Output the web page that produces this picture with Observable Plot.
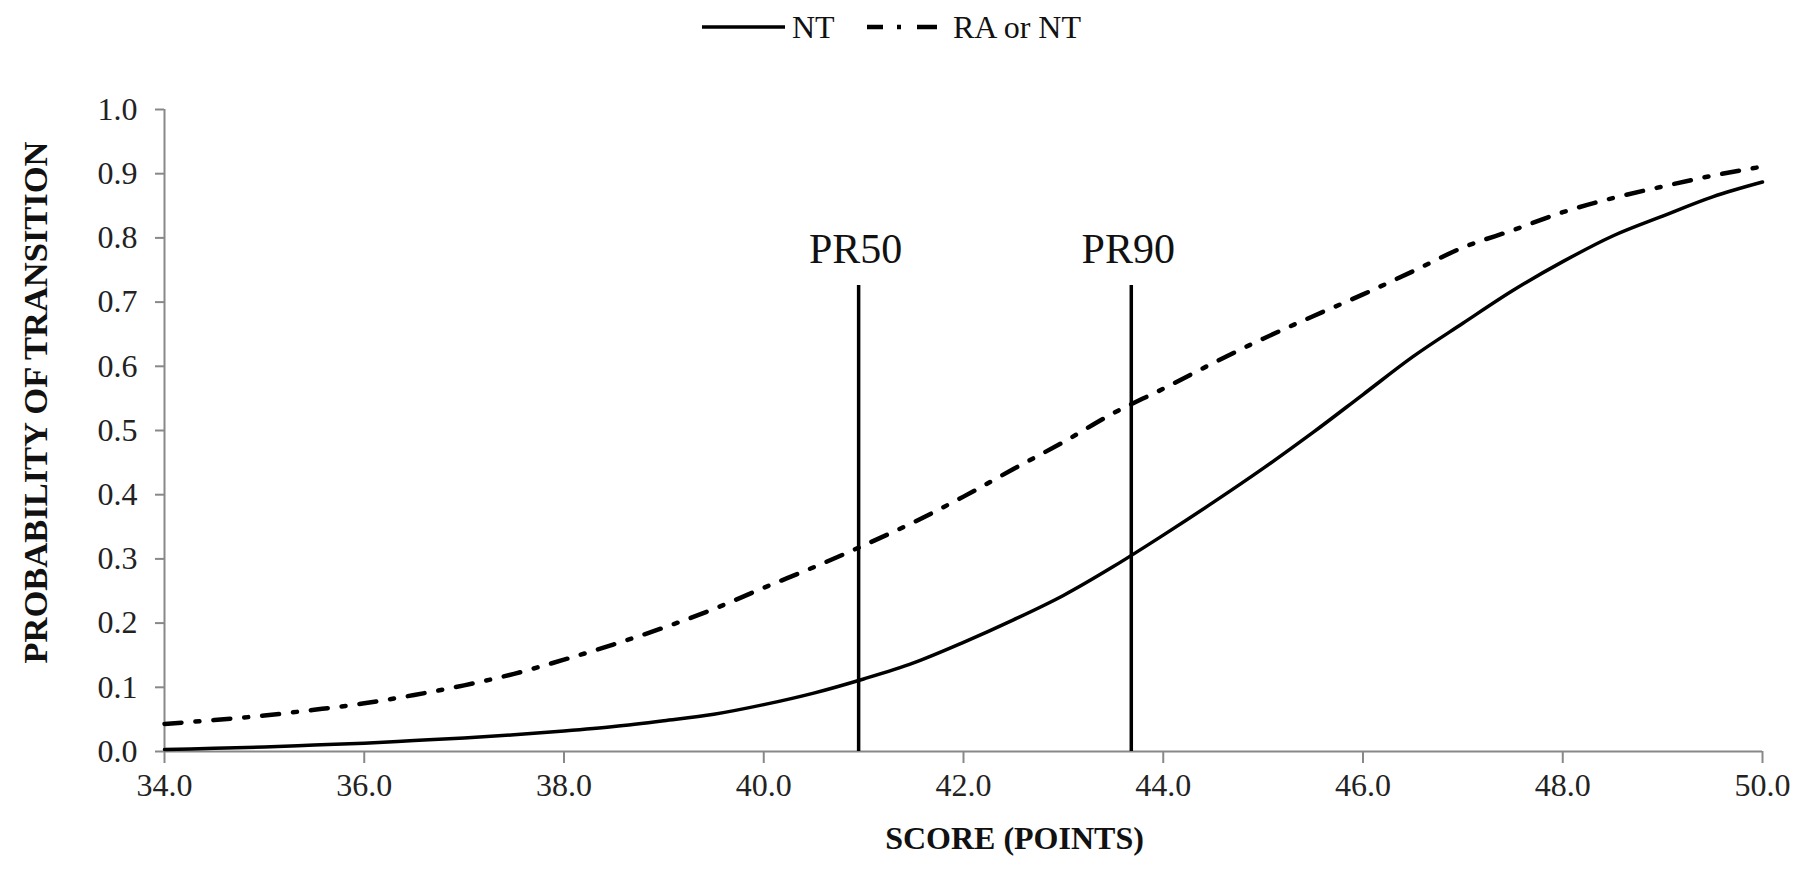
<!DOCTYPE html>
<html>
<head>
<meta charset="utf-8">
<script src="https://cdn.jsdelivr.net/npm/d3@7"></script>
<script src="https://cdn.jsdelivr.net/npm/@observablehq/plot@0.6"></script>
<style>
  html, body { margin: 0; padding: 0; background: #fff; }
  #wrap { position: relative; width: 1807px; height: 872px; overflow: hidden; font-family: "Liberation Serif", "Times New Roman", serif; }
  #legend { position: relative; width: 1807px; height: 55px; }
  #legend span { position: absolute; top: 8px; font-size: 32px; line-height: 38px; color: #111; }
  #legend svg { position: absolute; left: 0; top: 0; }
</style>
</head>
<body>
<div id="wrap">
  <div id="legend"></div>
  <div id="chart"></div>
</div>
<script>
// ---- data ----
const score = [34.0, 34.5, 35.0, 35.5, 36.0, 36.5, 37.0, 37.5, 38.0, 38.5, 39.0, 39.5, 40.0, 40.5, 41.0, 41.5, 42.0, 42.5, 43.0, 43.5, 44.0, 44.5, 45.0, 45.5, 46.0, 46.5, 47.0, 47.5, 48.0, 48.5, 49.0, 49.5, 50.0];
const nt = [0.003, 0.005, 0.007, 0.010, 0.013, 0.017, 0.021, 0.026, 0.032, 0.039, 0.048, 0.058, 0.073, 0.091, 0.113, 0.138, 0.170, 0.205, 0.243, 0.288, 0.337, 0.388, 0.441, 0.497, 0.556, 0.615, 0.667, 0.718, 0.763, 0.803, 0.834, 0.864, 0.887];
const raOrNt = [0.043, 0.049, 0.056, 0.065, 0.075, 0.088, 0.103, 0.121, 0.143, 0.167, 0.193, 0.222, 0.255, 0.287, 0.321, 0.357, 0.397, 0.440, 0.482, 0.527, 0.565, 0.605, 0.643, 0.678, 0.712, 0.748, 0.785, 0.812, 0.840, 0.862, 0.880, 0.897, 0.911];
const seriesNames = ["NT", "RA or NT"];
const prLabels = ["PR50", "PR90"];
const prScores = [40.95, 43.68];
const prTop = 0.726;
const xTicks = [34, 36, 38, 40, 42, 44, 46, 48, 50];
const yTicks = [0, 0.1, 0.2, 0.3, 0.4, 0.5, 0.6, 0.7, 0.8, 0.9, 1.0];
const xTitle = "SCORE (POINTS)";
const yTitle = "PROBABILITY OF TRANSITION";

const ntRows = score.map((s, i) => ({score: s, p: nt[i]}));
const raRows = score.map((s, i) => ({score: s, p: raOrNt[i]}));
const prRows = prScores.map((s, i) => ({score: s, top: prTop, label: prLabels[i]}));

const dashDot = "17,14,4,14";

// ---- legend (HTML above the SVG) ----
const legend = document.getElementById("legend");
legend.innerHTML = `
  <svg width="1807" height="55">
    <line x1="702" x2="785" y1="27" y2="27" stroke="#000" stroke-width="3.5"/>
    <line x1="867" x2="937" y1="27" y2="27" stroke="#000" stroke-width="4.5" stroke-dasharray="16,14,4,16,20"/>
  </svg>
  <span style="left:792px">${seriesNames[0]}</span>
  <span style="left:953px">${seriesNames[1]}</span>`;

// ---- chart ----
const chart = Plot.plot({
  width: 1807,
  height: 817,
  marginLeft: 164,
  marginRight: 45,
  marginTop: 54,
  marginBottom: 121,
  style: {fontFamily: "Liberation Serif, Times New Roman, serif", fontSize: "32px", background: "#fff", overflow: "visible"},
  x: {domain: [34, 50]},
  y: {domain: [0, 1]},
  marks: [
    Plot.axisX({ticks: xTicks, tickFormat: d => d.toFixed(1), tickSize: 12, tickPadding: 10, stroke: "#888", strokeWidth: 2, fill: "#222", fontSize: 32, label: null}),
    Plot.axisY({ticks: yTicks, tickFormat: d => d.toFixed(1), tickSize: 9, tickPadding: 18, stroke: "#888", strokeWidth: 2, fill: "#222", fontSize: 32, label: null}),
    Plot.ruleY([0], {stroke: "#888", strokeWidth: 2}),
    Plot.ruleX([34], {stroke: "#888", strokeWidth: 2}),
    Plot.ruleX(prRows, {x: "score", y1: 0, y2: "top", stroke: "#000", strokeWidth: 3.5}),
    Plot.text(prRows, {x: "score", y: "top", text: "label", dy: -36, dx: -3, fontSize: 42, fill: "#111"}),
    Plot.line(raRows, {x: "score", y: "p", stroke: "#000", strokeWidth: 4.5, strokeDasharray: dashDot, curve: "monotone-x"}),
    Plot.line(ntRows, {x: "score", y: "p", stroke: "#000", strokeWidth: 3.5, curve: "monotone-x"}),
    Plot.text([xTitle], {frameAnchor: "bottom", text: d => d, textAnchor: "middle", lineAnchor: "middle", dy: 87, dx: 51, fontSize: 32, fontWeight: "bold", fill: "#111"}),
    Plot.text([yTitle], {frameAnchor: "left", text: d => d, textAnchor: "middle", lineAnchor: "middle", rotate: -90, dx: -129, dy: -28, fontSize: 34.5, fontWeight: "bold", fill: "#111"})
  ]
});
document.getElementById("chart").appendChild(chart);
</script>
</body>
</html>
